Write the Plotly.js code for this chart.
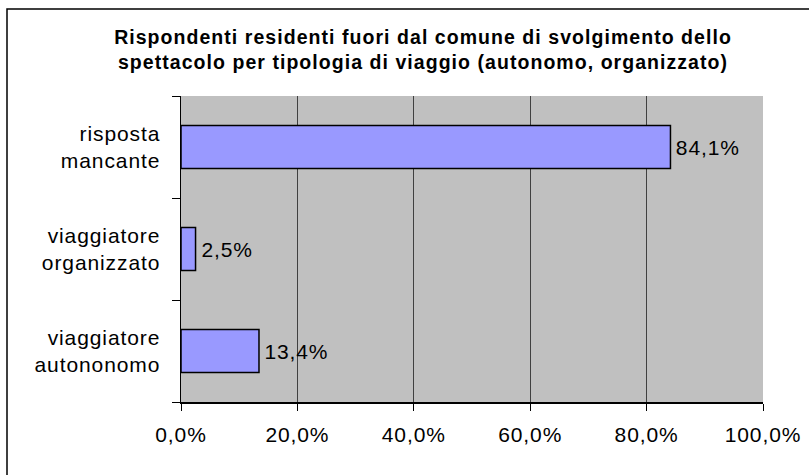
<!DOCTYPE html>
<html>
<head>
<meta charset="utf-8">
<script src="https://cdn.plot.ly/plotly-3.0.1.min.js"></script>
<style>
html,body{margin:0;padding:0;background:#fff;}
#chart{width:809px;height:475px;}
#chart .gtitle{letter-spacing:1.05px;}
#chart .xtick text, #chart .ytick text, #chart .bartext{letter-spacing:0.9px;}
</style>
</head>
<body>
<div id="chart"></div>
<script>
const categories = ['viaggiatore<br>autononomo', 'viaggiatore<br>organizzato', 'risposta<br>mancante'];
const values = [0.134, 0.025, 0.841];
const xTicks = [0, 0.2, 0.4, 0.6, 0.8, 1.0];
const titleText = 'Rispondenti residenti fuori dal comune di svolgimento dello<br>spettacolo per tipologia di viaggio (autonomo, organizzato)';

const L = 181, R = 763, T = 96, B = 402, W = 809, H = 475;
const px = x => (x - L) / (R - L);
const py = y => (B - y) / (B - T);

const trace = {
  type: 'bar',
  orientation: 'h',
  y: categories,
  x: values,
  marker: {color: '#9999ff', line: {color: '#000', width: 1.5}},
  width: 0.42,
  texttemplate: '\u2009%{x:.1%}',
  textposition: 'outside',
  constraintext: 'none',
  cliponaxis: false,
  textfont: {family: 'Liberation Sans, Arial, sans-serif', size: 21, color: '#000'},
  hoverinfo: 'none'
};

const layout = {
  width: W, height: H,
  separators: ',.',
  margin: {l: L, r: W - R, t: T, b: H - B, pad: 0},
  paper_bgcolor: '#fff',
  plot_bgcolor: '#c0c0c0',
  showlegend: false,
  font: {family: 'Liberation Sans, Arial, sans-serif', size: 21, color: '#000'},
  title: {
    text: '<b>' + titleText + '</b>',
    font: {family: 'Liberation Sans, Arial, sans-serif', size: 19.5, color: '#000'},
    xref: 'paper', x: px(423), xanchor: 'center', y: 1 - 44 / H, yanchor: 'middle'
  },
  xaxis: {
    range: [0, 1],
    tickvals: xTicks,
    tickformat: '.1%',
    ticks: 'outside', ticklen: 7, tickcolor: '#000', tickwidth: 1,
    showgrid: true, gridcolor: '#404040', gridwidth: 1,
    showline: true, linecolor: '#000', linewidth: 1.5,
    zeroline: false,
    ticklabelstandoff: 6,
    tickfont: {size: 21},
    fixedrange: true
  },
  yaxis: {
    type: 'category',
    categoryorder: 'array', categoryarray: categories,
    tickson: 'boundaries',
    ticks: 'outside', ticklen: 8, tickcolor: '#000', tickwidth: 1,
    showline: true, linecolor: '#000', linewidth: 1.5,
    showgrid: false, zeroline: false,
    ticklabelstandoff: 15,
    tickfont: {size: 21},
    fixedrange: true
  },
  shapes: [{
    type: 'rect', xref: 'paper', yref: 'paper',
    x0: px(7), x1: px(W + 20), y0: py(9), y1: py(H + 20),
    line: {color: '#000', width: 1.5}, fillcolor: 'rgba(0,0,0,0)', layer: 'above'
  }]
};

Plotly.newPlot('chart', [trace], layout, {displayModeBar: false, staticPlot: true});
</script>
</body>
</html>
